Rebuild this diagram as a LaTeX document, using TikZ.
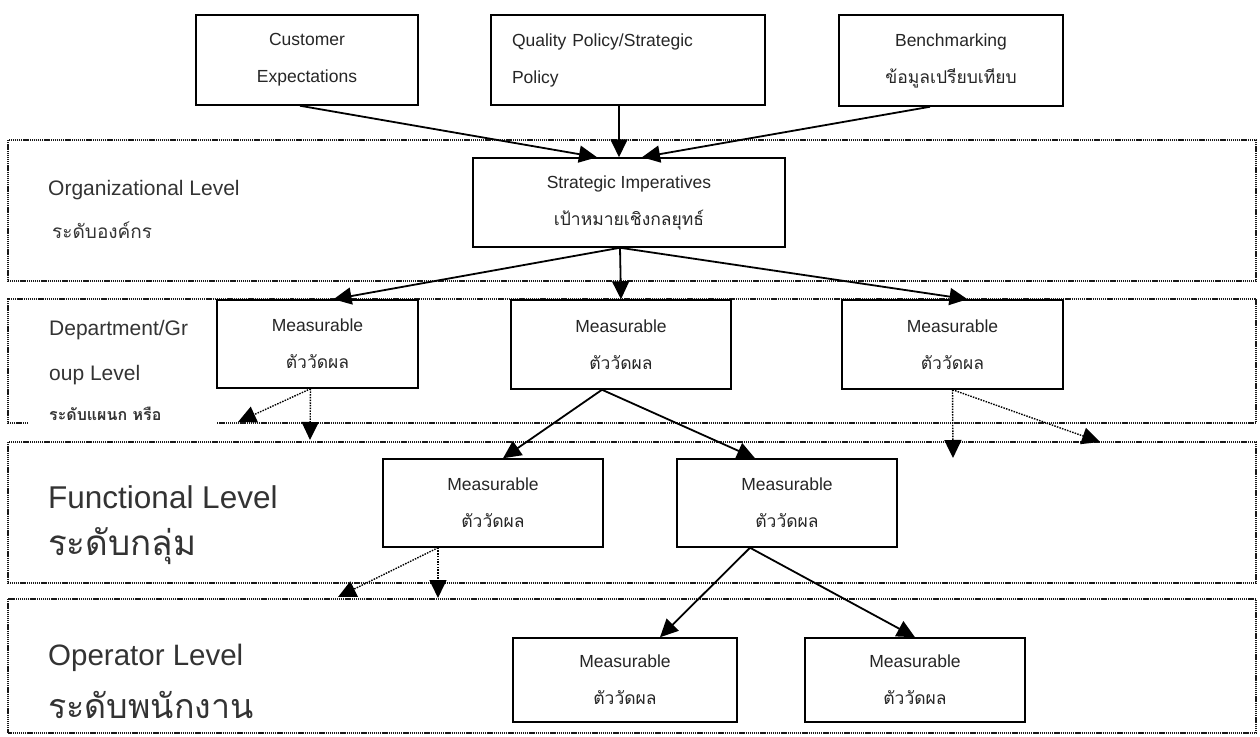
\documentclass[tikz,border=0pt]{standalone}
\usepackage{fontspec}
\setmainfont{Liberation Sans}
\newfontfamily\thaifont[Script=Thai]{Loma}
\usetikzlibrary{arrows.meta}

\begin{document}
\begin{tikzpicture}[x=1pt,y=-1pt,
    box/.style={draw,line width=1.5pt,fill=white,inner sep=0pt,align=center,
      text=black!85,font=\fontsize{17.5}{37}\selectfont},
    band/.style={line width=1.8pt,dash pattern=on 1.3pt off 0.8pt,black!90},
    arr/.style={line width=1.8pt,-{Triangle[length=18pt,width=17pt]}},
    darr/.style={line width=1.4pt,dash pattern=on 1.5pt off 1.2pt,
      -{Triangle[length=18pt,width=17pt]}},
    lvl/.style={anchor=west,inner sep=0pt,text=black!80}]

    \useasboundingbox (0,0) rectangle (1260,736);

    % Draw the level bands
    \draw[band] (8,140) rectangle (1256,281);
    \draw[band] (28,423) -- (8,423) -- (8,299) -- (1256,299) -- (1256,423) -- (217,423);
    \draw[band] (8,442) rectangle (1256,583);
    \draw[band] (8,599) rectangle (1256,733);

    % Level labels
    \node[lvl,font=\fontsize{21}{25}\selectfont] (orgen) at (48,190) {Organizational Level};
    \node[lvl,font=\fontsize{19}{23}\selectfont\thaifont] (orgth) at (52,230) {ระดับองค์กร};
    \node[lvl,font=\fontsize{21}{25}\selectfont] (depena) at (49,330) {Department/Gr};
    \node[lvl,font=\fontsize{21}{25}\selectfont] (depenb) at (49,375) {oup Level};
    \node[lvl,font=\fontsize{16}{20}\selectfont\thaifont\bfseries] (depth) at (49,414) {ระดับแผนก หรือ};
    \node[lvl,font=\fontsize{31.5}{36}\selectfont] (funen) at (48,497) {Functional Level};
    \node[lvl,font=\fontsize{35}{40}\selectfont\thaifont] (functh) at (48,546) {ระดับกลุ่ม};
    \node[lvl,font=\fontsize{29.5}{34}\selectfont] (open) at (48,658) {Operator Level};
    \node[lvl,font=\fontsize{34}{38}\selectfont\thaifont] (opth) at (48,705) {ระดับพนักงาน};

    % Input boxes
    \node[box,minimum width=222pt,minimum height=90pt] (cust) at (307,60) {Customer\\Expectations};
    \node[box,minimum width=274pt,minimum height=90pt,text width=232pt,align=left] (qual) at (628,60) {Quality Policy/Strategic\\Policy};
    \node[box,minimum width=224pt,minimum height=91pt] (bench) at (951,60.5) {Benchmarking\\{\thaifont ข้อมูลเปรียบเทียบ}};

    % Strategic and measurable boxes
    \node[box,minimum width=312pt,minimum height=89pt] (strat) at (629,202.5) {Strategic Imperatives\\{\thaifont เป้าหมายเชิงกลยุทธ์}};
    \node[box,minimum width=201pt,minimum height=88pt] (dep1) at (317.5,344) {Measurable\\{\thaifont ตัววัดผล}};
    \node[box,minimum width=220pt,minimum height=89pt] (dep2) at (621,344.5) {Measurable\\{\thaifont ตัววัดผล}};
    \node[box,minimum width=221pt,minimum height=89pt] (dep3) at (952.5,344.5) {Measurable\\{\thaifont ตัววัดผล}};
    \node[box,minimum width=220pt,minimum height=88pt] (fun1) at (493,503) {Measurable\\{\thaifont ตัววัดผล}};
    \node[box,minimum width=220pt,minimum height=88pt] (fun2) at (787,503) {Measurable\\{\thaifont ตัววัดผล}};
    \node[box,minimum width=224pt,minimum height=84pt] (op1) at (625,680) {Measurable\\{\thaifont ตัววัดผล}};
    \node[box,minimum width=220pt,minimum height=84pt] (op2) at (915,680) {Measurable\\{\thaifont ตัววัดผล}};

    % Free ends of the dotted arrows
    \coordinate (d1l) at (238,422);
    \coordinate (d1d) at (310,440);
    \coordinate (d3d) at (953,458);
    \coordinate (d3r) at (1100,442);
    \coordinate (f1l) at (338,597);
    \coordinate (f1d) at (438,598);

    % Draw the solid arrows
    \draw[arr] ([xshift=-7pt]cust.south) -- ([xshift=-32pt]strat.north);
    \draw[arr] ([xshift=-9pt]qual.south) -- ([xshift=-10pt]strat.north);
    \draw[arr] ([xshift=-21pt]bench.south) -- ([xshift=13pt]strat.north);
    \draw[arr] ([xshift=-9pt]strat.south) -- ([xshift=16pt]dep1.north);
    \draw[arr] ([xshift=-9pt]strat.south) -- (dep2.north);
    \draw[arr] ([xshift=-9pt]strat.south) -- ([xshift=15pt]dep3.north);
    \draw[arr] ([xshift=-19pt]dep2.south) -- ([xshift=10pt]fun1.north);
    \draw[arr] ([xshift=-19pt]dep2.south) -- ([xshift=-32pt]fun2.north);
    \draw[arr] ([xshift=-37pt]fun2.south) -- ([xshift=35pt]op1.north);
    \draw[arr] ([xshift=-37pt]fun2.south) -- (op2.north);

    % Draw the dotted arrows
    \draw[darr] ([xshift=-7pt]dep1.south) -- (d1l);
    \draw[darr] ([xshift=-7pt]dep1.south) -- (d1d);
    \draw[darr] (dep3.south) -- (d3d);
    \draw[darr] (dep3.south) -- (d3r);
    \draw[darr] ([xshift=-55pt]fun1.south) -- (f1l);
    \draw[darr] ([xshift=-55pt]fun1.south) -- (f1d);
\end{tikzpicture}
\end{document}
